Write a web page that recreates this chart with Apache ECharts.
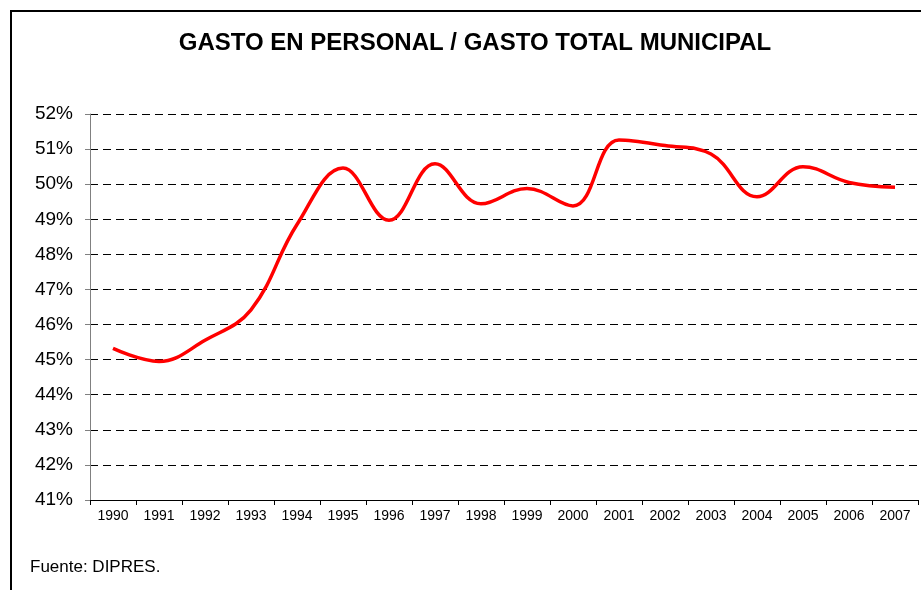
<!DOCTYPE html>
<html>
<head>
<meta charset="utf-8">
<script src="https://cdn.jsdelivr.net/npm/echarts@6/dist/echarts.min.js"></script>
<style>
  html, body { margin: 0; padding: 0; background: #fff; }
  #chart { width: 921px; height: 590px; }
</style>
</head>
<body>
<div id="chart"></div>
<script>
// años y % gasto en personal sobre gasto total municipal
var years = ['1990', '1991', '1992', '1993', '1994', '1995', '1996', '1997', '1998',
  '1999', '2000', '2001', '2002', '2003', '2004', '2005', '2006', '2007']
var ratio = [45.32, 44.95, 45.55, 46.42, 48.85, 50.46, 48.97, 50.58, 49.44,
  49.88, 49.38, 51.26, 51.10, 50.86, 49.64, 50.50, 50.05, 49.91]

var titleText = 'GASTO EN PERSONAL / GASTO TOTAL MUNICIPAL'
var sourceText = 'Fuente: DIPRES.'

var chart = echarts.init(document.getElementById('chart'))

var option = {
  animation: false,
  textStyle: {
    fontFamily: 'Liberation Sans, Arial, sans-serif'
  },
  graphic: [
    {
      type: 'rect',
      shape: { x: 11, y: 11, width: 1000, height: 1000 },
      style: { fill: 'none', stroke: '#000', lineWidth: 2 }
    },
    {
      type: 'text',
      x: 475, y: 43,
      style: {
        text: titleText,
        fontSize: 24,
        fontWeight: 'bold',
        fontFamily: 'Liberation Sans, Arial, sans-serif',
        fill: '#000',
        align: 'center',
        verticalAlign: 'middle'
      }
    },
    {
      type: 'text',
      x: 30, y: 567,
      style: {
        text: sourceText,
        fontSize: 17,
        fontFamily: 'Liberation Sans, Arial, sans-serif',
        fill: '#000',
        align: 'left',
        verticalAlign: 'middle'
      }
    }
  ],
  grid: {
    left: 90,
    right: 3,
    top: 114,
    bottom: 90,
    containLabel: false
  },
  xAxis: {
    type: 'category',
    data: years,
    boundaryGap: true,
    axisLine: { lineStyle: { color: '#000', width: 1 } },
    axisTick: { show: true, length: 5, lineStyle: { color: '#000' } },
    axisLabel: { color: '#000', fontSize: 14, margin: 9 }
  },
  yAxis: {
    type: 'value',
    min: 41,
    max: 52,
    interval: 1,
    axisLine: { show: true, lineStyle: { color: '#808080', width: 1 } },
    axisTick: { show: true, length: 5, lineStyle: { color: '#808080' } },
    axisLabel: { color: '#000', fontSize: 19, margin: 17, formatter: '{value}%' },
    splitLine: {
      show: true,
      lineStyle: { color: '#000', type: [8, 5], width: 1 }
    }
  },
  series: [
    {
      name: 'Gasto en personal',
      type: 'line',
      data: ratio,
      smooth: 0.4,
      showSymbol: false,
      lineStyle: { color: '#ff0000', width: 3.5 }
    }
  ]
}

chart.setOption(option)
</script>
</body>
</html>
